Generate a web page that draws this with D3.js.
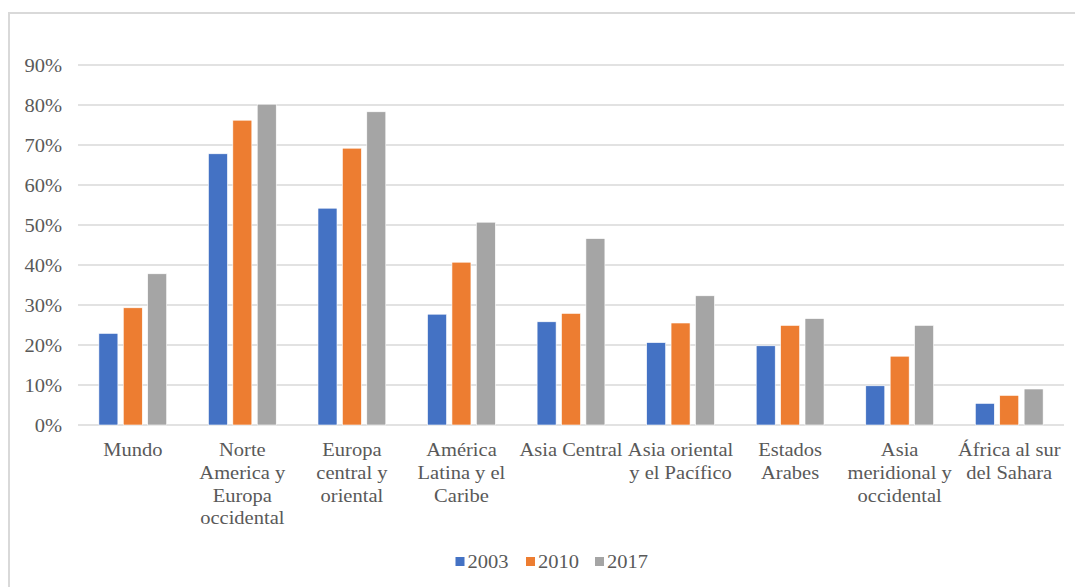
<!DOCTYPE html>
<html><head><meta charset="utf-8">
<script src="https://cdn.jsdelivr.net/npm/d3@7"></script>
<style>html,body{margin:0;padding:0;background:#fff;}svg{display:block;}
svg text{font-family:"Liberation Serif","Times New Roman","DejaVu Serif",serif;font-size:18px;fill:#595959;}</style>
</head><body>
<svg id="chart" width="1075" height="587"></svg>
<script>
const categories = [
  ["Mundo"],
  ["Norte","America y","Europa","occidental"],
  ["Europa","central y","oriental"],
  ["América","Latina y el","Caribe"],
  ["Asia Central"],
  ["Asia oriental","y el Pacífico"],
  ["Estados","Arabes"],
  ["Asia","meridional y","occidental"],
  ["África al sur","del Sahara"]
];
const seriesNames = ["2003","2010","2017"];
const v2003 = [22.9, 67.8, 54.2, 27.7, 25.8, 20.6, 19.8, 9.8, 5.4];
const v2010 = [29.3, 76.2, 69.2, 40.7, 27.9, 25.5, 24.9, 17.2, 7.4];
const v2017 = [37.8, 80.2, 78.3, 50.7, 46.6, 32.3, 26.6, 24.9, 9.0];
const yTicks = [0,10,20,30,40,50,60,70,80,90];
const colors = ["#4472c4","#ed7d31","#a5a5a5"];

(function(){
const series = [v2003, v2010, v2017];
const svg = d3.select("#chart");
const sx = 1.14; // horizontal stretch of the reference text

// frame (top and left edges visible)
svg.append("line").attr("x1",8.5).attr("x2",1075).attr("y1",13).attr("y2",13)
  .attr("stroke","#d9d9d9").attr("stroke-width",2);
svg.append("line").attr("x1",9).attr("x2",9).attr("y1",12).attr("y2",587)
  .attr("stroke","#d9d9d9").attr("stroke-width",2);

const pl = 78, pr = 1064, pt = 65, pb = 425;
const x = d3.scaleBand().domain(d3.range(categories.length)).range([pl, pr]).padding(0);
const y = d3.scaleLinear().domain([0, 90]).range([pb, pt]);

// gridlines
svg.append("g").selectAll("line").data(yTicks).join("line")
  .attr("x1", pl).attr("x2", pr)
  .attr("y1", d => y(d)).attr("y2", d => y(d))
  .attr("stroke", "#d9d9d9").attr("stroke-width", 1.5);

// y axis labels
const yAxis = d3.axisLeft(y).tickValues(yTicks).tickFormat(d => d + "%").tickSize(0).tickPadding(0);
const ya = svg.append("g").attr("transform", `translate(62,0)`).call(yAxis);
ya.select(".domain").remove();
ya.attr("font-family", null).attr("font-size", null);
ya.selectAll("text").attr("fill", null).attr("dy", "0.35em")
  .attr("transform", `scale(${sx},1)`);

// bars
const step = 24.4, bw = 19;
series.forEach((vals, si) => {
  svg.append("g").selectAll("rect").data(vals).join("rect")
    .attr("x", (d, i) => x(i) + x.bandwidth()/2 + (si - 1) * step - bw/2)
    .attr("width", bw)
    .attr("y", d => y(d))
    .attr("height", d => y(0) - y(d))
    .attr("fill", colors[si])
    .attr("stroke", "#fff").attr("stroke-width", 0.6);
});

// category labels
const cg = svg.append("g");
categories.forEach((lines, i) => {
  const cx = x(i) + x.bandwidth()/2;
  const t = cg.append("text")
    .attr("transform", `translate(${cx},456) scale(${sx},1)`)
    .attr("text-anchor", "middle");
  lines.forEach((l, k) => {
    t.append("tspan").attr("x", 0).attr("y", k * 22.8).text(l);
  });
});

// legend
const legX = [455.5, 526, 595];
const lg = svg.append("g");
seriesNames.forEach((n, i) => {
  lg.append("rect").attr("x", legX[i]).attr("y", 557).attr("width", 9).attr("height", 9).attr("fill", colors[i]);
  lg.append("text").attr("transform", `translate(${legX[i] + 12},568) scale(${sx},1)`).text(n);
});
})();
</script>
</body></html>
